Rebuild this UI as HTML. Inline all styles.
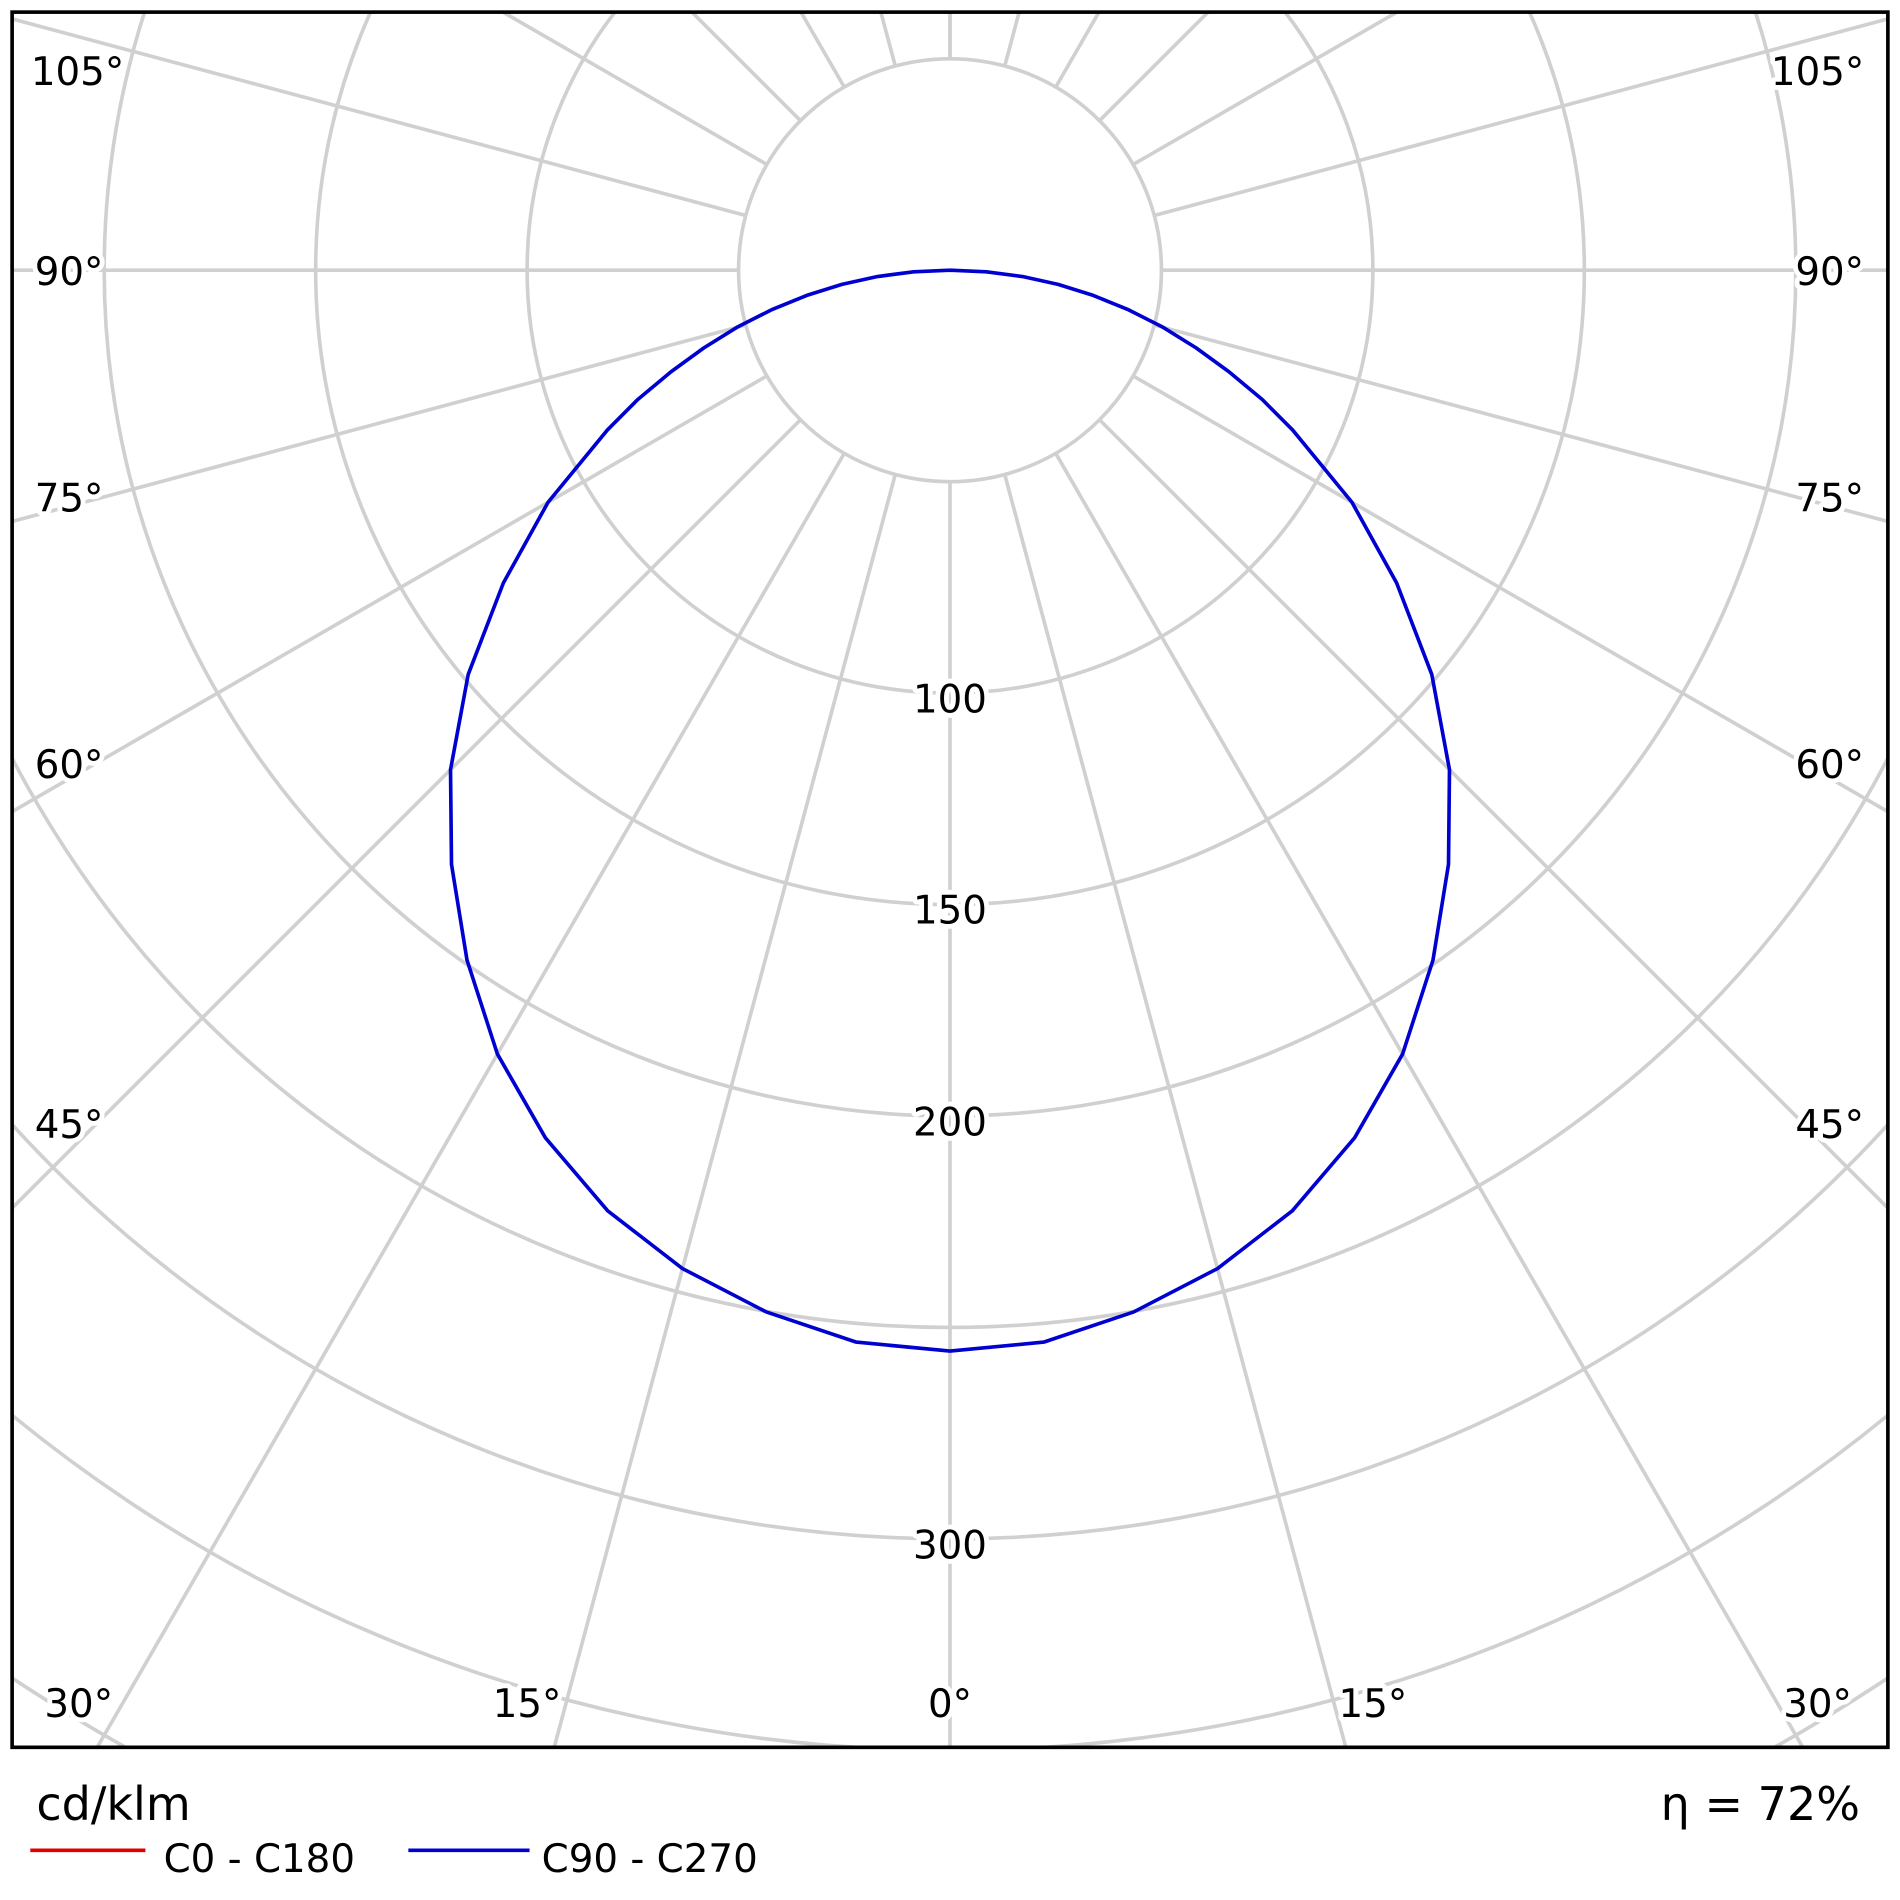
<!DOCTYPE html>
<html><head><meta charset="utf-8"><style>html,body{margin:0;padding:0;background:#fff;overflow:hidden;width:1900px;height:1900px}svg{display:block}</style></head>
<body>
<svg id="s" width="1900" height="1900" viewBox="0 0 1568 1568" xmlns="http://www.w3.org/2000/svg" font-family="DejaVu Sans, Liberation Sans, sans-serif">
<defs><clipPath id="c"><rect x="10" y="10" width="1548" height="1432"/></clipPath></defs>
<rect width="1568" height="1568" fill="#fff"/>
<g id="grid" clip-path="url(#c)" stroke="#d0d0d0" stroke-width="3" fill="none"></g>
<g id="curve" clip-path="url(#c)"></g>
<g id="labels" font-size="32" fill="#000" text-anchor="middle" stroke="#fff" stroke-width="8" paint-order="stroke" stroke-linejoin="round">
<text x="784" y="588">100</text>
<text x="784" y="762">150</text>
<text x="784" y="937">200</text>
<text x="784" y="1286">300</text>
<text x="64" y="70">105°</text><text x="1500" y="70">105°</text>
<text x="57" y="235">90°</text><text x="1510" y="235">90°</text>
<text x="57" y="422">75°</text><text x="1510" y="422">75°</text>
<text x="57" y="642">60°</text><text x="1510" y="642">60°</text>
<text x="57" y="939">45°</text><text x="1510" y="939">45°</text>
<text x="65" y="1417">30°</text><text x="1500" y="1417">30°</text>
<text x="435" y="1417">15°</text><text x="1133" y="1417">15°</text>
<text x="784" y="1417">0°</text>
</g>
<rect x="10" y="10" width="1548" height="1432" fill="none" stroke="#000" stroke-width="3"/>
<text x="30" y="1502" font-size="38">cd/klm</text>
<text x="1535" y="1502" font-size="38" text-anchor="end">η = 72%</text>
<line x1="25" y1="1527" x2="120" y2="1527" stroke="#e00000" stroke-width="3"/>
<text x="135" y="1545" font-size="32">C0 - C180</text>
<line x1="337" y1="1527" x2="437" y2="1527" stroke="#0000d0" stroke-width="3"/>
<text x="447" y="1545" font-size="32">C90 - C270</text>
</svg>
<script>
var NS="http://www.w3.org/2000/svg",cx=784,cy=223,k=3.49;
var g=document.getElementById('grid');
function el(t,a,p){var e=document.createElementNS(NS,t);for(var i in a)e.setAttribute(i,a[i]);p.appendChild(e);return e;}
for(var v=50;v<=500;v+=50)el('circle',{cx:cx,cy:cy,r:v*k},g);
for(var a=-180;a<=180;a+=15){var t=a*Math.PI/180,s=Math.sin(t),c=Math.cos(t);
el('line',{x1:cx+s*50*k,y1:cy+c*50*k,x2:cx+s*3000,y2:cy+c*3000},g);}
var d=[[0,892],[5,888],[10,873],[15,853],[20,826],[25,790],[30,747],[35,695],[40,640],[45,583],[50,519],[55,450],[60,383],[65,312],[67.5,279],[70,245],[72.5,213],[75,182],[77.5,151],[80,120],[82.5,90],[85,60],[87.5,30],[90,0]];
var all=[];
for(var i=d.length-1;i>0;i--)all.push([-d[i][0],d[i][1]]);
for(var i=0;i<d.length;i++)all.push(d[i]);
var pts=all.map(function(p){var t=p[0]*Math.PI/180;return (cx+p[1]*Math.sin(t)).toFixed(1)+','+(cy+p[1]*Math.cos(t)).toFixed(1);});
el('polyline',{points:pts.join(' '),fill:'none',stroke:'#0000d0','stroke-width':3,'stroke-linejoin':'round'},document.getElementById('curve'));
</script>
</body></html>
